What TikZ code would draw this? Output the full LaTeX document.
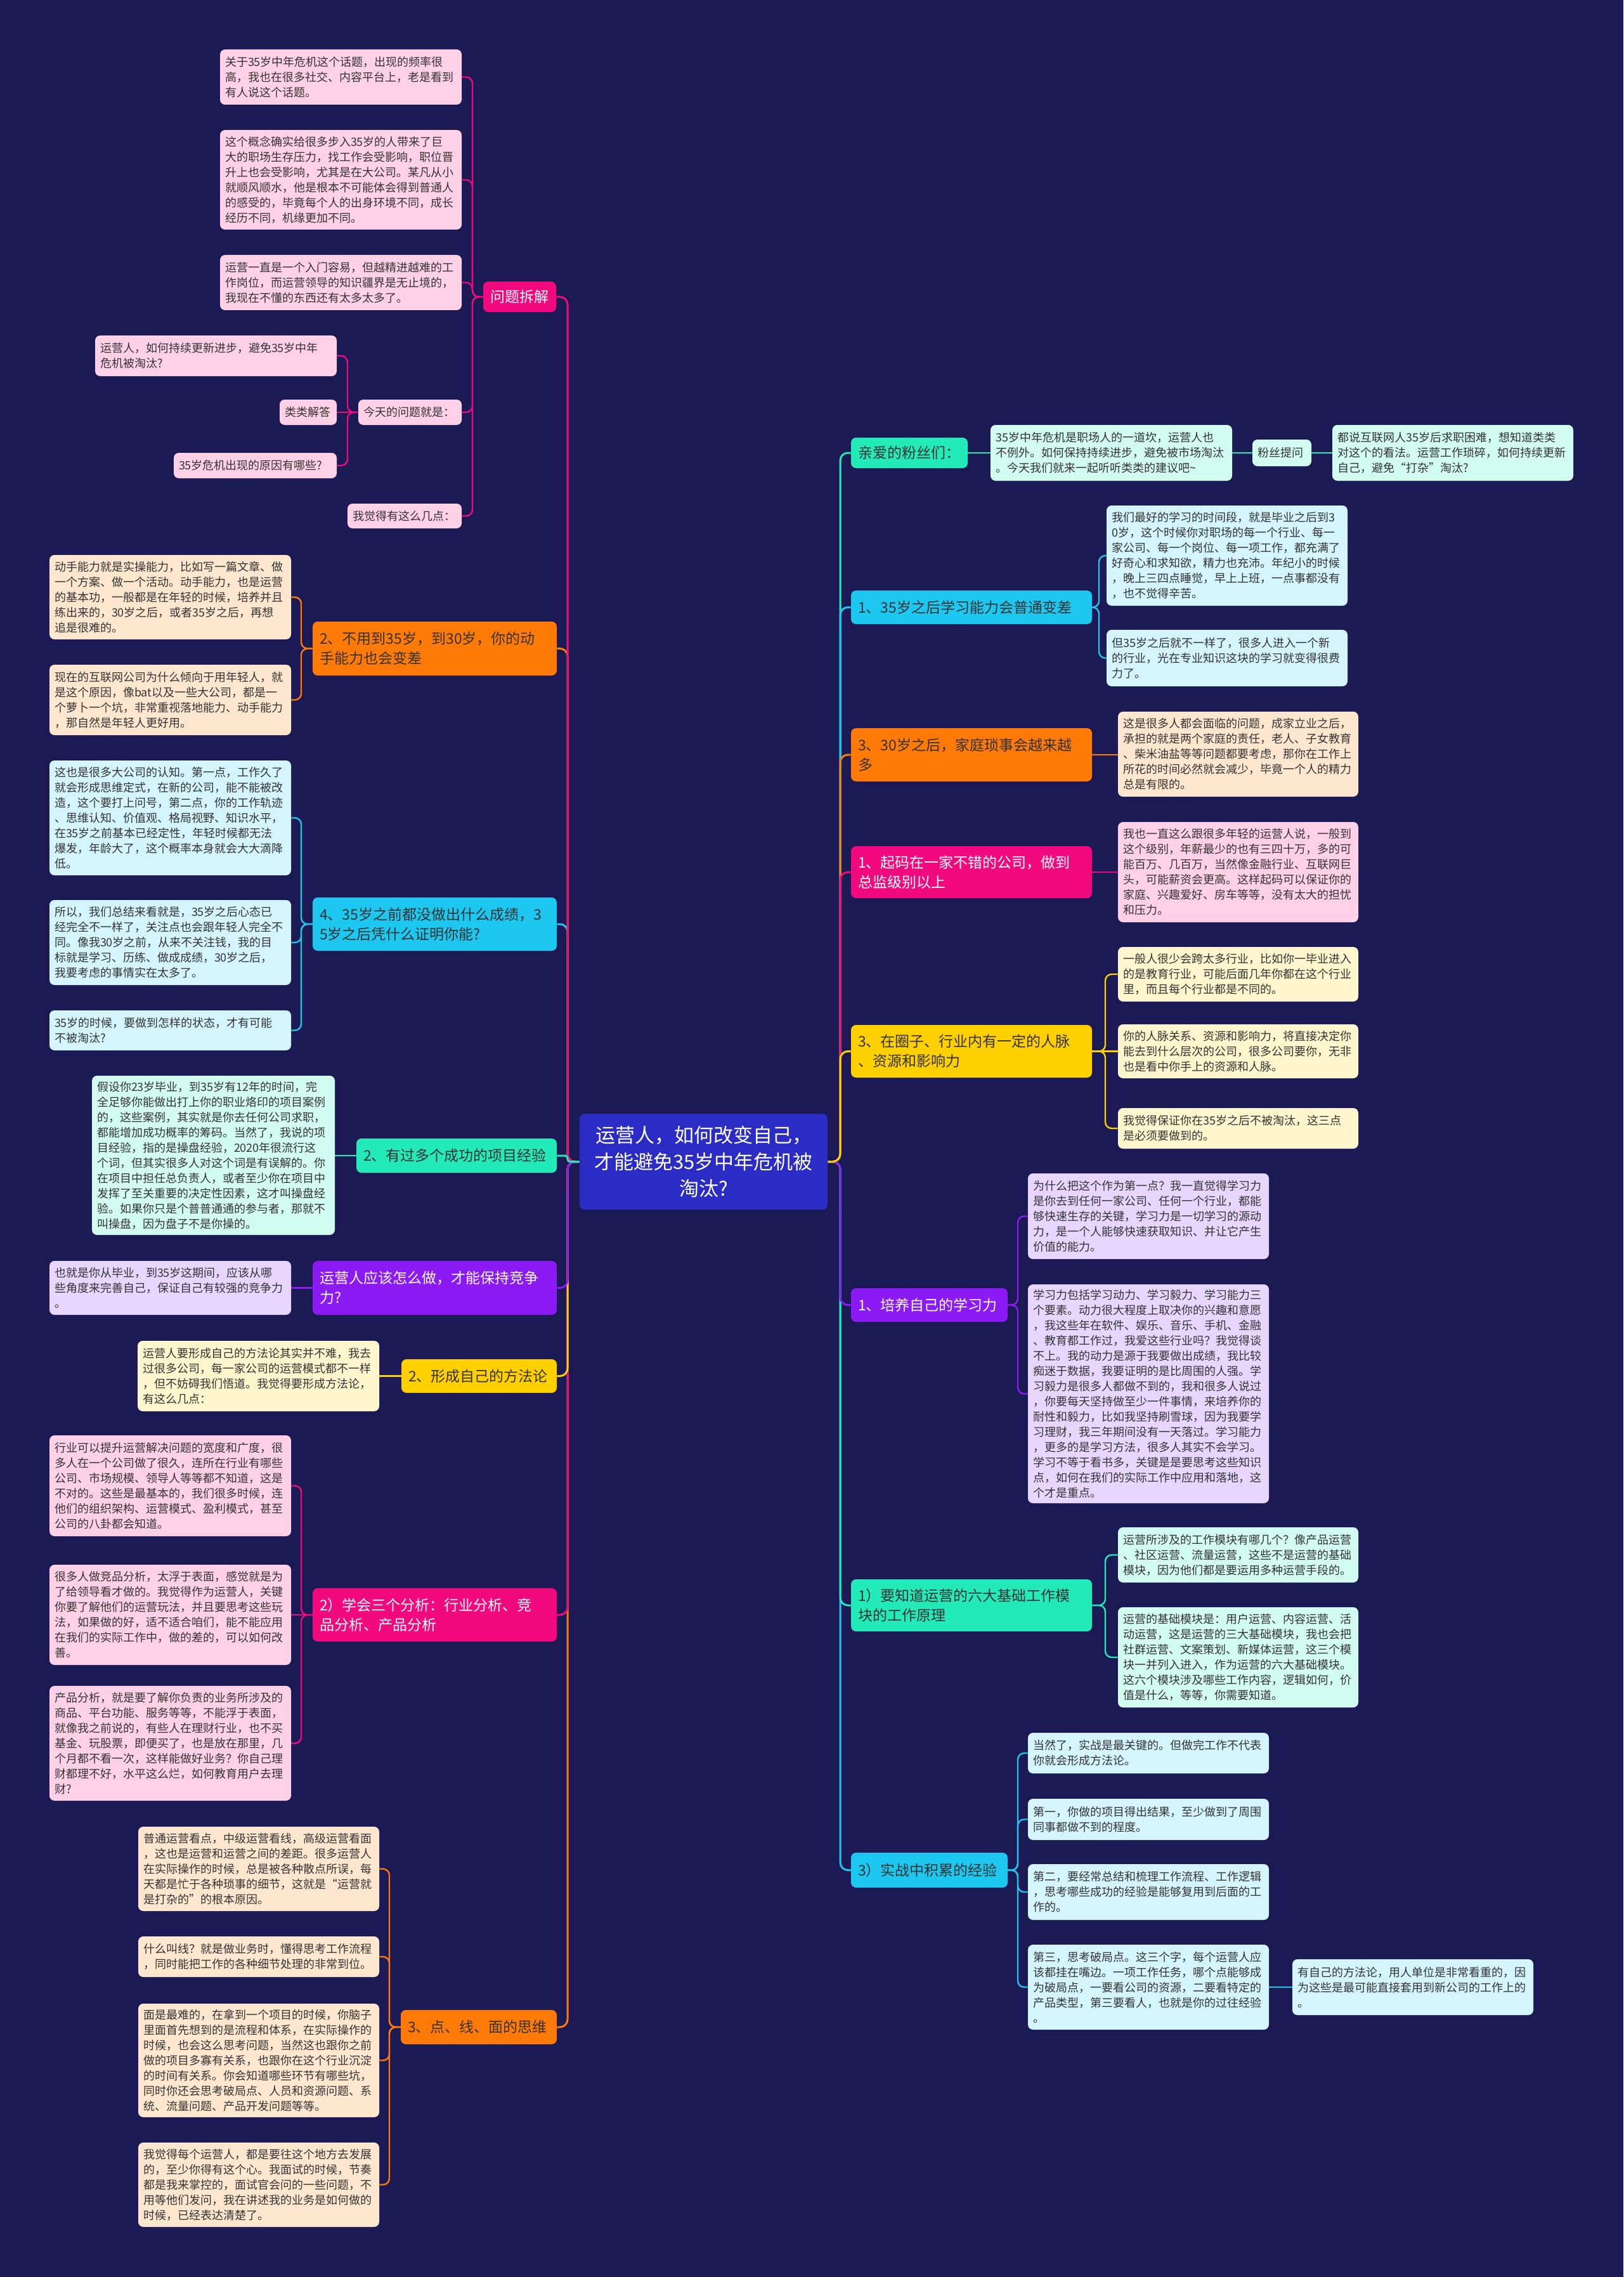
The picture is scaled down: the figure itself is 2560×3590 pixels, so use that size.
\documentclass[tikz,border=0pt]{standalone}
\usepackage{fontspec}
\setmainfont{Noto Sans CJK SC}
\definecolor{bgc}{HTML}{1B1A55}
\definecolor{ctrc}{HTML}{2B2CC6}
\definecolor{pk}{HTML}{F2097E}
\definecolor{lpk}{HTML}{FFD1E6}
\definecolor{orc}{HTML}{FF7A07}
\definecolor{lor}{HTML}{FFE6CF}
\definecolor{cy}{HTML}{1CC7F0}
\definecolor{lcy}{HTML}{D4F5FD}
\definecolor{mt}{HTML}{22EBB9}
\definecolor{lmt}{HTML}{D3FCF0}
\definecolor{pu}{HTML}{8C1AF4}
\definecolor{lpu}{HTML}{E8D6FF}
\definecolor{ye}{HTML}{FFD000}
\definecolor{lye}{HTML}{FFF6CD}
\definecolor{txt}{HTML}{333333}
\pgfdeclarelayer{back}
\pgfdeclarelayer{lines}
\pgfsetlayers{back,lines,main}
\newcommand\bx[8]{%
  \pgfmathsetmacro\bxw{(#4-#2)*0.5}%
  \pgfmathsetmacro\bxh{(#5-#3)*0.5}%
  \pgfmathsetmacro\bxt{\bxw-2*#6}%
  \node[#7, minimum width=\bxw pt, minimum height=\bxh pt, text width=\bxt pt] (#1) at ({(#2+#4)/2},{(#3+#5)/2}) {#8};}
\begin{document}
\begin{tikzpicture}[x=0.5pt,y=-0.5pt,
  box/.style={rounded corners=4pt, inner xsep=0pt, inner ysep=0pt, align=left, text=txt},
  leaf/.style={box, font=\fontsize{9pt}{12pt}\selectfont},
  br/.style={box, font=\fontsize{11.5pt}{15.5pt}\selectfont},
  trunk/.style={line width=1.5pt, rounded corners=6pt},
  twig/.style={line width=1.2pt, rounded corners=5pt}]
\useasboundingbox (0,0) rectangle (2560,3590);
\begin{pgfonlayer}{back}
\fill[bgc] (0,0) rectangle (2560,3590);
\end{pgfonlayer}

\coordinate (tL) at (895,0);
\coordinate (tR) at (1325,0);
\coordinate (bA) at (745,0);
\coordinate (bB) at (548,0);
\coordinate (bC) at (475,0);
\coordinate (bD) at (614,0);
\coordinate (bE) at (1733,0);
\coordinate (bF) at (1743,0);
\coordinate (bG) at (1605,0);

% center
\bx{ctr}{914}{1756}{1305}{1907}{0}{box,fill=ctrc,text=white,align=center,font=\fontsize{15.5pt}{21pt}\selectfont}{运营人，如何改变自己，\\才能避免35岁中年危机被\\淘汰?}

% ---------- LEFT ----------
\bx{wt}{762}{444}{877}{492}{5.5}{br,fill=pk,text=white}{问题拆解}
\bx{w1}{347}{78}{728}{165}{4}{leaf,fill=lpk}{关于35岁中年危机这个话题，出现的频率很\\高，我也在很多社交、内容平台上，老是看到\\有人说这个话题。}
\bx{w2}{347}{205}{728}{362}{4}{leaf,fill=lpk}{这个概念确实给很多步入35岁的人带来了巨\\大的职场生存压力，找工作会受影响，职位晋\\升上也会受影响，尤其是在大公司。某凡从小\\就顺风顺水，他是根本不可能体会得到普通人\\的感受的，毕竟每个人的出身环境不同，成长\\经历不同，机缘更加不同。}
\bx{w3}{347}{402}{728}{489}{4}{leaf,fill=lpk}{运营一直是一个入门容易，但越精进越难的工\\作岗位，而运营领导的知识疆界是无止境的，\\我现在不懂的东西还有太多太多了。}
\bx{w4}{565}{630}{728}{670}{4}{leaf,fill=lpk}{今天的问题就是：}
\bx{w5}{548}{794}{728}{833}{4}{leaf,fill=lpk}{我觉得有这么几点：}
\bx{w41}{150}{529}{531}{593}{4}{leaf,fill=lpk}{运营人，如何持续更新进步，避免35岁中年\\危机被淘汰?}
\bx{w42}{441}{630}{531}{670}{4}{leaf,fill=lpk}{类类解答}
\bx{w43}{274}{714}{531}{754}{4}{leaf,fill=lpk}{35岁危机出现的原因有哪些?}

\bx{o2}{493}{980}{878}{1065}{5.5}{br,fill=orc}{2、不用到35岁，到30岁，你的动\\手能力也会变差}
\bx{o2a}{78}{875}{459}{1008}{4}{leaf,fill=lor}{动手能力就是实操能力，比如写一篇文章、做\\一个方案、做一个活动。动手能力，也是运营\\的基本功，一般都是在年轻的时候，培养并且\\练出来的，30岁之后，或者35岁之后，再想\\追是很难的。}
\bx{o2b}{78}{1048}{459}{1159}{4}{leaf,fill=lor}{现在的互联网公司为什么倾向于用年轻人，就\\是这个原因，像bat以及一些大公司，都是一\\个萝卜一个坑，非常重视落地能力、动手能力\\，那自然是年轻人更好用。}

\bx{c3}{493}{1415}{878}{1499}{5.5}{br,fill=cy}{4、35岁之前都没做出什么成绩，3\\5岁之后凭什么证明你能?}
\bx{c3a}{78}{1199}{459}{1380}{4}{leaf,fill=lcy}{这也是很多大公司的认知。第一点，工作久了\\就会形成思维定式，在新的公司，能不能被改\\造，这个要打上问号，第二点，你的工作轨迹\\、思维认知、价值观、格局视野、知识水平，\\在35岁之前基本已经定性，年轻时候都无法\\爆发，年龄大了，这个概率本身就会大大滴降\\低。}
\bx{c3b}{78}{1419}{459}{1553}{4}{leaf,fill=lcy}{所以，我们总结来看就是，35岁之后心态已\\经完全不一样了，关注点也会跟年轻人完全不\\同。像我30岁之前，从来不关注钱，我的目\\标就是学习、历练、做成成绩，30岁之后，\\我要考虑的事情实在太多了。}
\bx{c3c}{78}{1593}{459}{1656}{4}{leaf,fill=lcy}{35岁的时候，要做到怎样的状态，才有可能\\不被淘汰?}

\bx{m4}{562}{1795}{878}{1849}{5.5}{br,fill=mt}{2、有过多个成功的项目经验}
\bx{m4a}{145}{1696}{528}{1947}{4}{leaf,fill=lmt}{假设你23岁毕业，到35岁有12年的时间，完\\全足够你能做出打上你的职业烙印的项目案例\\的，这些案例，其实就是你去任何公司求职，\\都能增加成功概率的筹码。当然了，我说的项\\目经验，指的是操盘经验，2020年很流行这\\个词，但其实很多人对这个词是有误解的。你\\在项目中担任总负责人，或者至少你在项目中\\发挥了至关重要的决定性因素，这才叫操盘经\\验。如果你只是个普普通通的参与者，那就不\\叫操盘，因为盘子不是你操的。}

\bx{p5}{493}{1988}{878}{2073}{5.5}{br,fill=pu,text=white}{运营人应该怎么做，才能保持竞争\\力?}
\bx{p5a}{78}{1988}{459}{2073}{4}{leaf,fill=lpu}{也就是你从毕业，到35岁这期间，应该从哪\\些角度来完善自己，保证自己有较强的竞争力\\。}

\bx{y6}{633}{2143}{878}{2196}{5.5}{br,fill=ye}{2、形成自己的方法论}
\bx{y6a}{217}{2114}{598}{2225}{4}{leaf,fill=lye}{运营人要形成自己的方法论其实并不难，我去\\过很多公司，每一家公司的运营模式都不一样\\，但不妨碍我们悟道。我觉得要形成方法论，\\有这么几点：}

\bx{k7}{493}{2504}{878}{2588}{5.5}{br,fill=pk,text=white}{2）学会三个分析：行业分析、竞\\品分析、产品分析}
\bx{k7a}{78}{2263}{459}{2422}{4}{leaf,fill=lpk}{行业可以提升运营解决问题的宽度和广度，很\\多人在一个公司做了很久，连所在行业有哪些\\公司、市场规模、领导人等等都不知道，这是\\不对的。这些是最基本的，我们很多时候，连\\他们的组织架构、运营模式、盈利模式，甚至\\公司的八卦都会知道。}
\bx{k7b}{78}{2467}{459}{2625}{4}{leaf,fill=lpk}{很多人做竞品分析，太浮于表面，感觉就是为\\了给领导看才做的。我觉得作为运营人，关键\\你要了解他们的运营玩法，并且要思考这些玩\\法，如果做的好，适不适合咱们，能不能应用\\在我们的实际工作中，做的差的，可以如何改\\善。}
\bx{k7c}{78}{2658}{459}{2839}{4}{leaf,fill=lpk}{产品分析，就是要了解你负责的业务所涉及的\\商品、平台功能、服务等等，不能浮于表面，\\就像我之前说的，有些人在理财行业，也不买\\基金、玩股票，即便买了，也是放在那里，几\\个月都不看一次，这样能做好业务？你自己理\\财都理不好，水平这么烂，如何教育用户去理\\财?}

\bx{o8}{632}{3169}{878}{3223}{5.5}{br,fill=orc}{3、点、线、面的思维}
\bx{o8a}{218}{2880}{598}{3013}{4}{leaf,fill=lor}{普通运营看点，中级运营看线，高级运营看面\\，这也是运营和运营之间的差距。很多运营人\\在实际操作的时候，总是被各种散点所误，每\\天都是忙于各种琐事的细节，这就是“运营就\\是打杂的”的根本原因。}
\bx{o8b}{218}{3053}{598}{3117}{4}{leaf,fill=lor}{什么叫线？就是做业务时，懂得思考工作流程\\，同时能把工作的各种细节处理的非常到位。}
\bx{o8c}{218}{3159}{598}{3338}{4}{leaf,fill=lor}{面是最难的，在拿到一个项目的时候，你脑子\\里面首先想到的是流程和体系，在实际操作的\\时候，也会这么思考问题，当然这也跟你之前\\做的项目多寡有关系，也跟你在这个行业沉淀\\的时间有关系。你会知道哪些环节有哪些坑，\\同时你还会思考破局点、人员和资源问题、系\\统、流量问题、产品开发问题等等。}
\bx{o8d}{218}{3378}{598}{3511}{4}{leaf,fill=lor}{我觉得每个运营人，都是要往这个地方去发展\\的，至少你得有这个心。我面试的时候，节奏\\都是我来掌控的，面试官会问的一些问题，不\\用等他们发问，我在讲述我的业务是如何做的\\时候，已经表达清楚了。}

% ---------- RIGHT ----------
\bx{fans}{1342}{690}{1526}{738}{5.5}{br,fill=mt}{亲爱的粉丝们：}
\bx{f1}{1562}{670}{1943}{758}{4}{leaf,fill=lmt}{35岁中年危机是职场人的一道坎，运营人也\\不例外。如何保持持续进步，避免被市场淘汰\\。今天我们就来一起听听类类的建议吧\textasciitilde}
\bx{ask}{1975}{693}{2068}{735}{4}{leaf,fill=lmt}{粉丝提问}
\bx{f2}{2101}{670}{2481}{758}{4}{leaf,fill=lmt}{都说互联网人35岁后求职困难，想知道类类\\对这个的看法。运营工作琐碎，如何持续更新\\自己，避免“打杂”淘汰?}

\bx{r1}{1342}{931}{1722}{984}{5.5}{br,fill=cy}{1、35岁之后学习能力会普通变差}
\bx{r1a}{1745}{797}{2125}{955}{4}{leaf,fill=lcy}{我们最好的学习的时间段，就是毕业之后到3\\0岁，这个时候你对职场的每一个行业、每一\\家公司、每一个岗位、每一项工作，都充满了\\好奇心和求知欲，精力也充沛。年纪小的时候\\，晚上三四点睡觉，早上上班，一点事都没有\\，也不觉得辛苦。}
\bx{r1b}{1745}{993}{2125}{1082}{4}{leaf,fill=lcy}{但35岁之后就不一样了，很多人进入一个新\\的行业，光在专业知识这块的学习就变得很费\\力了。}

\bx{r2}{1342}{1148}{1722}{1232}{5.5}{br,fill=orc}{3、30岁之后，家庭琐事会越来越\\多}
\bx{r2a}{1763}{1122}{2142}{1256}{4}{leaf,fill=lor}{这是很多人都会面临的问题，成家立业之后，\\承担的就是两个家庭的责任，老人、子女教育\\、柴米油盐等等问题都要考虑，那你在工作上\\所花的时间必然就会减少，毕竟一个人的精力\\总是有限的。}

\bx{r3}{1342}{1334}{1722}{1416}{5.5}{br,fill=pk,text=white}{1、起码在一家不错的公司，做到\\总监级别以上}
\bx{r3a}{1763}{1296}{2142}{1454}{4}{leaf,fill=lpk}{我也一直这么跟很多年轻的运营人说，一般到\\这个级别，年薪最少的也有三四十万，多的可\\能百万、几百万，当然像金融行业、互联网巨\\头，可能薪资会更高。这样起码可以保证你的\\家庭、兴趣爱好、房车等等，没有太大的担忧\\和压力。}

\bx{r4}{1342}{1616}{1722}{1699}{5.5}{br,fill=ye}{3、在圈子、行业内有一定的人脉\\、资源和影响力}
\bx{r4a}{1763}{1493}{2142}{1579}{4}{leaf,fill=lye}{一般人很少会跨太多行业，比如你一毕业进入\\的是教育行业，可能后面几年你都在这个行业\\里，而且每个行业都是不同的。}
\bx{r4b}{1763}{1615}{2142}{1700}{4}{leaf,fill=lye}{你的人脉关系、资源和影响力，将直接决定你\\能去到什么层次的公司，很多公司要你，无非\\也是看中你手上的资源和人脉。}
\bx{r4c}{1763}{1747}{2142}{1811}{4}{leaf,fill=lye}{我觉得保证你在35岁之后不被淘汰，这三点\\是必须要做到的。}

\bx{r5}{1342}{2031}{1589}{2084}{5.5}{br,fill=pu,text=white}{1、培养自己的学习力}
\bx{r5a}{1621}{1850}{2001}{1985}{4}{leaf,fill=lpu}{为什么把这个作为第一点？我一直觉得学习力\\是你去到任何一家公司、任何一个行业，都能\\够快速生存的关键，学习力是一切学习的源动\\力，是一个人能够快速获取知识、并让它产生\\价值的能力。}
\bx{r5b}{1621}{2025}{2001}{2370}{4}{leaf,fill=lpu}{学习力包括学习动力、学习毅力、学习能力三\\个要素。动力很大程度上取决你的兴趣和意愿\\，我这些年在软件、娱乐、音乐、手机、金融\\、教育都工作过，我爱这些行业吗？我觉得谈\\不上。我的动力是源于我要做出成绩，我比较\\痴迷于数据，我要证明的是比周围的人强。学\\习毅力是很多人都做不到的，我和很多人说过\\，你要每天坚持做至少一件事情，来培养你的\\耐性和毅力，比如我坚持刷雪球，因为我要学\\习理财，我三年期间没有一天落过。学习能力\\，更多的是学习方法，很多人其实不会学习。\\学习不等于看书多，关键是是要思考这些知识\\点，如何在我们的实际工作中应用和落地，这\\个才是重点。}

\bx{r6}{1342}{2490}{1722}{2572}{5.5}{br,fill=mt}{1）要知道运营的六大基础工作模\\块的工作原理}
\bx{r6a}{1763}{2408}{2142}{2495}{4}{leaf,fill=lmt}{运营所涉及的工作模块有哪几个？像产品运营\\、社区运营、流量运营，这些不是运营的基础\\模块，因为他们都是要运用多种运营手段的。}
\bx{r6b}{1763}{2534}{2142}{2692}{4}{leaf,fill=lmt}{运营的基础模块是：用户运营、内容运营、活\\动运营，这是运营的三大基础模块，我也会把\\社群运营、文案策划、新媒体运营，这三个模\\块一并列入进入，作为运营的六大基础模块。\\这六个模块涉及哪些工作内容，逻辑如何，价\\值是什么，等等，你需要知道。}

\bx{r7}{1342}{2921}{1589}{2976}{5.5}{br,fill=cy}{3）实战中积累的经验}
\bx{r7a}{1621}{2732}{2001}{2796}{4}{leaf,fill=lcy}{当然了，实战是最关键的。但做完工作不代表\\你就会形成方法论。}
\bx{r7b}{1621}{2836}{2001}{2901}{4}{leaf,fill=lcy}{第一，你做的项目得出结果，至少做到了周围\\同事都做不到的程度。}
\bx{r7c}{1621}{2939}{2001}{3027}{4}{leaf,fill=lcy}{第二，要经常总结和梳理工作流程、工作逻辑\\，思考哪些成功的经验是能够复用到后面的工\\作的。}
\bx{r7d}{1621}{3066}{2001}{3200}{4}{leaf,fill=lcy}{第三，思考破局点。这三个字，每个运营人应\\该都挂在嘴边。一项工作任务，哪个点能够成\\为破局点，一要看公司的资源，二要看特定的\\产品类型，第三要看人，也就是你的过往经验\\。}
\bx{r7e}{2038}{3089}{2418}{3177}{4}{leaf,fill=lcy}{有自己的方法论，用人单位是非常看重的，因\\为这些是最可能直接套用到新公司的工作上的\\。}

% ---------- CONNECTORS ----------
\begin{pgfonlayer}{lines}
\foreach \n/\c in {o8/orc,k7/pk,y6/ye,p5/pu,c3/cy,o2/orc,wt/pk}
  \draw[trunk,\c] (ctr.west) -- (ctr.west -| tL) -- (\n.east -| tL) -- (\n.east);
\draw[trunk,mt,rounded corners=2pt] (ctr.west) -- (ctr.west -| tL) -- (m4.east -| tL) -- (m4.east);
\foreach \n/\c in {r7/cy,r6/mt,r5/pu,fans/mt,r1/cy,r2/orc,r3/pk,r4/ye}
  \draw[trunk,\c] (ctr.east) -- (ctr.east -| tR) -- (\n.west -| tR) -- (\n.west);

\foreach \n in {w1,w2,w3,w4,w5}
  \draw[twig,pk] (wt.west) -- (wt.west -| bA) -- (\n.east -| bA) -- (\n.east);
\foreach \n in {w41,w43}
  \draw[twig,pk] (w4.west) -- (w4.west -| bB) -- (\n.east -| bB) -- (\n.east);
\draw[twig,pk] (w4.west) -- (w4.west -| w42.east);
\foreach \n in {o2a,o2b}
  \draw[twig,orc] (o2.west) -- (o2.west -| bC) -- (\n.east -| bC) -- (\n.east);
\foreach \n in {c3a,c3b,c3c}
  \draw[twig,cy] (c3.west) -- (c3.west -| bC) -- (\n.east -| bC) -- (\n.east);
\draw[twig,mt] (m4.west) -- (m4.west -| m4a.east);
\draw[twig,pu] (p5.west) -- (p5.west -| p5a.east);
\draw[twig,ye] (y6.west) -- (y6.west -| y6a.east);
\foreach \n in {k7a,k7c}
  \draw[twig,pk] (k7.west) -- (k7.west -| bC) -- (\n.east -| bC) -- (\n.east);
\draw[twig,pk] (k7.west) -- (k7.west -| k7b.east);
\foreach \n in {o8a,o8b,o8c,o8d}
  \draw[twig,orc] (o8.west) -- (o8.west -| bD) -- (\n.east -| bD) -- (\n.east);

\draw[twig,mt] (fans.east) -- (fans.east -| f1.west);
\draw[twig,mt] (f1.east) -- (f1.east -| ask.west);
\draw[twig,mt] (ask.east) -- (ask.east -| f2.west);
\foreach \n in {r1a,r1b}
  \draw[twig,cy] (r1.east) -- (r1.east -| bE) -- (\n.west -| bE) -- (\n.west);
\draw[twig,orc] (r2.east) -- (r2.east -| r2a.west);
\draw[twig,pk] (r3.east) -- (r3.east -| r3a.west);
\foreach \n in {r4a,r4c}
  \draw[twig,ye] (r4.east) -- (r4.east -| bF) -- (\n.west -| bF) -- (\n.west);
\draw[twig,ye] (r4.east) -- (r4.east -| r4b.west);
\foreach \n in {r5a,r5b}
  \draw[twig,pu] (r5.east) -- (r5.east -| bG) -- (\n.west -| bG) -- (\n.west);
\foreach \n in {r6a,r6b}
  \draw[twig,mt] (r6.east) -- (r6.east -| bF) -- (\n.west -| bF) -- (\n.west);
\foreach \n in {r7a,r7b,r7c,r7d}
  \draw[twig,cy] (r7.east) -- (r7.east -| bG) -- (\n.west -| bG) -- (\n.west);
\draw[twig,cy] (r7d.east) -- (r7d.east -| r7e.west);
\end{pgfonlayer}
\end{tikzpicture}
\end{document}
